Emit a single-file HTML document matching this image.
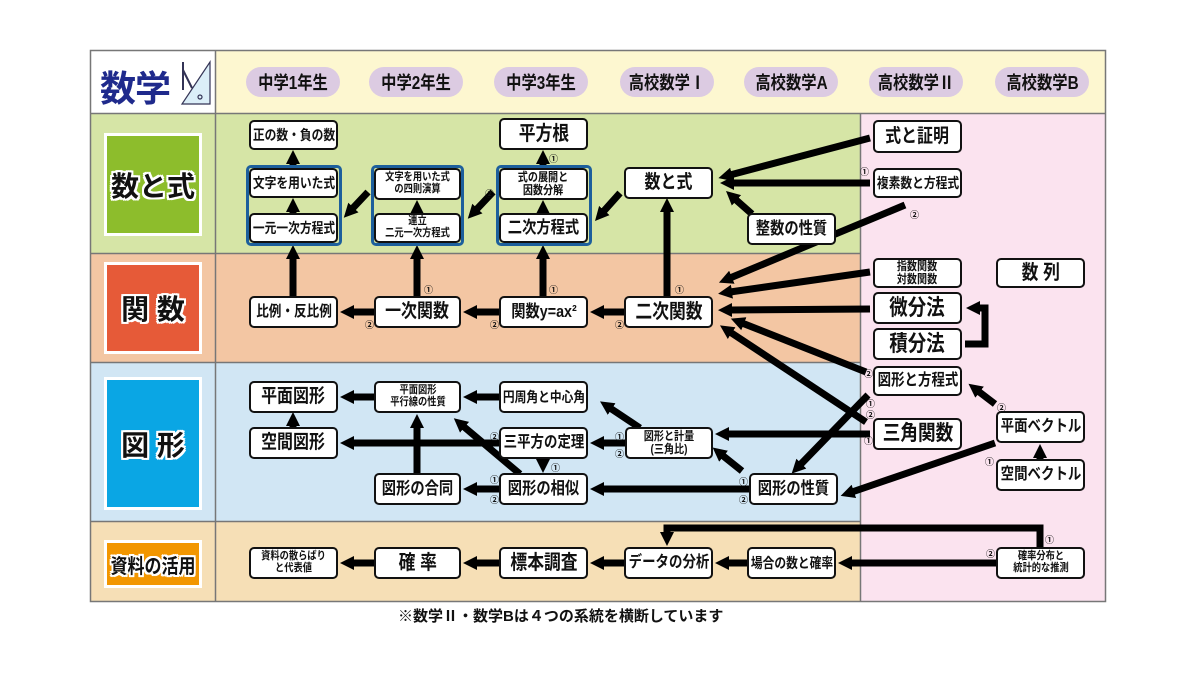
<!DOCTYPE html>
<html><head><meta charset="utf-8">
<style>
body{margin:0;width:1200px;height:675px;background:#fff;position:relative;overflow:hidden;font-family:"Liberation Sans","Noto Sans CJK JP",sans-serif;}
.a{position:absolute;}
.bg{position:absolute;}
.n{position:absolute;box-sizing:border-box;background:#fff;border:2px solid #111;border-radius:5px;display:flex;align-items:center;justify-content:center;text-align:center;font-weight:bold;color:#111;line-height:1.05;white-space:nowrap;}
.n span{display:inline-block;transform:scaleX(.84);}
.g{position:absolute;box-sizing:border-box;border:3px solid #1d5f9c;border-radius:5px;}
.p{position:absolute;width:94px;height:30px;top:67px;border-radius:15px;background:#dccbe2;font-weight:bold;font-size:18px;display:flex;align-items:center;justify-content:center;color:#111;white-space:nowrap;}
.p span{display:inline-block;transform:scaleX(.85);}
.L{position:absolute;box-sizing:border-box;border:3px solid #fff;display:flex;align-items:center;justify-content:center;font-weight:bold;color:#111;font-size:28px;white-space:nowrap;text-shadow:-2px 0 #fff,2px 0 #fff,0 -2px #fff,0 2px #fff,2px 2px #fff,-2px -2px #fff,2px -2px #fff,-2px 2px #fff;}
.c{position:absolute;font-size:9px;font-weight:bold;color:#111;}
</style></head><body>
<div class="bg" style="left:90px;top:50px;width:1016px;height:63px;background:#fdf7d0"></div>
<div class="bg" style="left:90px;top:50px;width:125px;height:63px;background:#fff"></div>
<div class="bg" style="left:90px;top:113px;width:770px;height:140px;background:#d6e5a6"></div>
<div class="bg" style="left:90px;top:253px;width:770px;height:109px;background:#f3c6a3"></div>
<div class="bg" style="left:90px;top:362px;width:770px;height:159px;background:#d1e6f4"></div>
<div class="bg" style="left:90px;top:521px;width:770px;height:81px;background:#f6dfb6"></div>
<div class="bg" style="left:860px;top:113px;width:246px;height:489px;background:#fbe3ef"></div>
<svg class="a" style="left:0;top:0" width="1200" height="675">
<g stroke="#777" stroke-width="1.5" fill="none">
<rect x="90.5" y="50.5" width="1015" height="551"/>
<line x1="215.5" y1="50" x2="215.5" y2="602"/>
<line x1="90" y1="113.5" x2="1106" y2="113.5"/>
<line x1="90" y1="253.5" x2="860" y2="253.5"/>
<line x1="90" y1="362.5" x2="860" y2="362.5"/>
<line x1="90" y1="521.5" x2="860" y2="521.5"/>
<line x1="860.5" y1="113" x2="860.5" y2="602"/>
</g>
<g stroke="#335" stroke-width="1.2" fill="#dbeef8">
<polygon points="210,62 210,104 182,104"/>
<circle cx="200" cy="97" r="2" fill="none"/>
<line x1="183" y1="62" x2="183" y2="90" stroke-width="2"/>
<line x1="183" y1="70" x2="192" y2="88" stroke-width="2"/>
</g>
<defs><marker id="m" markerUnits="userSpaceOnUse" markerWidth="16" markerHeight="16" refX="2" refY="8" orient="auto"><path d="M0,1 L14,8 L0,15 Z" fill="#000"/></marker></defs>
<g stroke="#000" stroke-width="7" fill="none" marker-end="url(#m)">
<line x1="293" y1="168" x2="293" y2="162"/>
<line x1="293" y1="213" x2="293" y2="210"/>
<line x1="417" y1="213" x2="417" y2="212"/>
<line x1="543" y1="213" x2="543" y2="212"/>
<line x1="543" y1="166" x2="543" y2="162"/>
<line x1="293" y1="296" x2="293" y2="257"/>
<line x1="417" y1="296" x2="417" y2="257"/>
<line x1="543" y1="296" x2="543" y2="257"/>
<line x1="667" y1="296" x2="667" y2="210"/>
<line x1="368" y1="192" x2="352" y2="209"/>
<line x1="493" y1="192" x2="476" y2="210"/>
<line x1="620" y1="193" x2="603" y2="212"/>
<line x1="870" y1="138" x2="730" y2="175"/>
<line x1="870" y1="183" x2="732" y2="183"/>
<line x1="752" y1="214" x2="735" y2="199"/>
<line x1="905" y1="205" x2="730" y2="278"/>
<line x1="870" y1="272" x2="730" y2="292"/>
<line x1="870" y1="309" x2="730" y2="310"/>
<line x1="866" y1="372" x2="742" y2="323"/>
<line x1="866" y1="422" x2="730" y2="332"/>
<line x1="624" y1="312" x2="602" y2="312"/>
<line x1="499" y1="312" x2="475" y2="312"/>
<line x1="374" y1="312" x2="352" y2="312"/>
<line x1="499" y1="397" x2="475" y2="397"/>
<line x1="374" y1="397" x2="352" y2="397"/>
<line x1="293" y1="427" x2="293" y2="424"/>
<line x1="499" y1="443" x2="352" y2="443"/>
<line x1="417" y1="473" x2="417" y2="426"/>
<line x1="520" y1="474" x2="463" y2="426"/>
<line x1="543" y1="459" x2="543" y2="461"/>
<line x1="499" y1="489" x2="475" y2="489"/>
<line x1="625" y1="443" x2="602" y2="443"/>
<line x1="640" y1="428" x2="610" y2="408"/>
<line x1="742" y1="471" x2="722" y2="455"/>
<line x1="749" y1="489" x2="602" y2="489"/>
<line x1="870" y1="434" x2="727" y2="434"/>
<line x1="868" y1="395" x2="800" y2="465"/>
<line x1="995" y1="404" x2="978" y2="391"/>
<line x1="1040" y1="459" x2="1040" y2="456"/>
<line x1="995" y1="443" x2="852" y2="492"/>
<line x1="996" y1="563" x2="850" y2="563"/>
<line x1="747" y1="563" x2="727" y2="563"/>
<line x1="624" y1="563" x2="602" y2="563"/>
<line x1="499" y1="563" x2="475" y2="563"/>
<line x1="374" y1="563" x2="352" y2="563"/>
<polyline points="1040,547 1040,528 667,528 667,534"/>
<polyline points="965,344 985,344 985,308 978,308"/>
</g>
</svg>
<div class="a" style="left:100px;top:60px;font-size:36px;font-weight:bold;color:#1f2a8c;letter-spacing:-1px">数学</div>
<div class="p" style="left:246px"><span>中学1年生</span></div>
<div class="p" style="left:369px"><span>中学2年生</span></div>
<div class="p" style="left:494px"><span>中学3年生</span></div>
<div class="p" style="left:620px"><span>高校数学Ⅰ</span></div>
<div class="p" style="left:744px"><span>高校数学A</span></div>
<div class="p" style="left:869px"><span>高校数学Ⅱ</span></div>
<div class="p" style="left:995px"><span>高校数学B</span></div>
<div class="L" style="left:104px;top:133px;width:98px;height:103px;background:#8dbd2c">数と式</div>
<div class="L" style="left:104px;top:262px;width:98px;height:92px;background:#e65a38">関&nbsp;数</div>
<div class="L" style="left:104px;top:377px;width:98px;height:133px;background:#0aa6e4">図&nbsp;形</div>
<div class="L" style="left:104px;top:540px;width:98px;height:48px;background:#f29600;font-size:20px"><span style="display:inline-block;transform:scaleX(.85)">資料の活用</span></div>
<div class="g" style="left:246px;top:165px;width:96px;height:81px"></div>
<div class="g" style="left:371px;top:165px;width:93px;height:81px"></div>
<div class="g" style="left:496px;top:165px;width:96px;height:81px"></div>
<div class="n" style="left:249px;top:120px;width:89px;height:30px;font-size:14px"><span>正の数・負の数</span></div>
<div class="n" style="left:249px;top:168px;width:89px;height:30px;font-size:14px"><span>文字を用いた式</span></div>
<div class="n" style="left:249px;top:213px;width:89px;height:30px;font-size:14px"><span>一元一次方程式</span></div>
<div class="n" style="left:374px;top:168px;width:87px;height:32px;font-size:11px"><span>文字を用いた式<br>の四則演算</span></div>
<div class="n" style="left:374px;top:213px;width:87px;height:30px;font-size:11px"><span>連立<br>二元一次方程式</span></div>
<div class="n" style="left:499px;top:118px;width:89px;height:32px;font-size:20px"><span>平方根</span></div>
<div class="n" style="left:499px;top:168px;width:89px;height:32px;font-size:12px"><span>式の展開と<br>因数分解</span></div>
<div class="n" style="left:499px;top:213px;width:89px;height:30px;font-size:17px"><span>二次方程式</span></div>
<div class="n" style="left:624px;top:167px;width:89px;height:32px;font-size:19px"><span>数と式</span></div>
<div class="n" style="left:747px;top:213px;width:89px;height:32px;font-size:17px"><span>整数の性質</span></div>
<div class="n" style="left:873px;top:120px;width:89px;height:33px;font-size:19px"><span>式と証明</span></div>
<div class="n" style="left:873px;top:168px;width:89px;height:30px;font-size:14px"><span>複素数と方程式</span></div>
<div class="n" style="left:873px;top:258px;width:89px;height:30px;font-size:12px"><span>指数関数<br>対数関数</span></div>
<div class="n" style="left:996px;top:258px;width:89px;height:30px;font-size:20px"><span>数 列</span></div>
<div class="n" style="left:873px;top:292px;width:89px;height:32px;font-size:22px"><span>微分法</span></div>
<div class="n" style="left:873px;top:328px;width:89px;height:32px;font-size:22px"><span>積分法</span></div>
<div class="n" style="left:249px;top:296px;width:89px;height:32px;font-size:15px"><span>比例・反比例</span></div>
<div class="n" style="left:374px;top:296px;width:87px;height:32px;font-size:19px"><span>一次関数</span></div>
<div class="n" style="left:499px;top:296px;width:89px;height:32px;font-size:17px"><span>関数y=ax²</span></div>
<div class="n" style="left:624px;top:296px;width:89px;height:32px;font-size:20px"><span>二次関数</span></div>
<div class="n" style="left:249px;top:381px;width:89px;height:32px;font-size:19px"><span>平面図形</span></div>
<div class="n" style="left:374px;top:381px;width:87px;height:32px;font-size:11px"><span>平面図形<br>平行線の性質</span></div>
<div class="n" style="left:499px;top:381px;width:89px;height:32px;font-size:14px"><span>円周角と中心角</span></div>
<div class="n" style="left:249px;top:427px;width:89px;height:32px;font-size:19px"><span>空間図形</span></div>
<div class="n" style="left:499px;top:427px;width:89px;height:32px;font-size:16px"><span>三平方の定理</span></div>
<div class="n" style="left:625px;top:427px;width:88px;height:32px;font-size:12px"><span>図形と計量<br>(三角比)</span></div>
<div class="n" style="left:873px;top:366px;width:89px;height:30px;font-size:16px"><span>図形と方程式</span></div>
<div class="n" style="left:873px;top:418px;width:89px;height:32px;font-size:21px"><span>三角関数</span></div>
<div class="n" style="left:996px;top:411px;width:89px;height:32px;font-size:16px"><span>平面ベクトル</span></div>
<div class="n" style="left:996px;top:459px;width:89px;height:32px;font-size:16px"><span>空間ベクトル</span></div>
<div class="n" style="left:374px;top:473px;width:87px;height:32px;font-size:17px"><span>図形の合同</span></div>
<div class="n" style="left:499px;top:473px;width:89px;height:32px;font-size:17px"><span>図形の相似</span></div>
<div class="n" style="left:749px;top:473px;width:89px;height:32px;font-size:17px"><span>図形の性質</span></div>
<div class="n" style="left:249px;top:547px;width:89px;height:32px;font-size:11px"><span>資料の散らばり<br>と代表値</span></div>
<div class="n" style="left:374px;top:547px;width:87px;height:32px;font-size:20px"><span>確 率</span></div>
<div class="n" style="left:499px;top:547px;width:89px;height:32px;font-size:20px"><span>標本調査</span></div>
<div class="n" style="left:624px;top:547px;width:89px;height:32px;font-size:16px"><span>データの分析</span></div>
<div class="n" style="left:747px;top:547px;width:89px;height:32px;font-size:14px"><span>場合の数と確率</span></div>
<div class="n" style="left:996px;top:547px;width:89px;height:32px;font-size:11px"><span>確率分布と<br>統計的な推測</span></div>
<div class="c" style="left:549px;top:152px">①</div>
<div class="c" style="left:485px;top:187px">②</div>
<div class="c" style="left:860px;top:165px">①</div>
<div class="c" style="left:910px;top:208px">②</div>
<div class="c" style="left:675px;top:283px">①</div>
<div class="c" style="left:424px;top:283px">①</div>
<div class="c" style="left:549px;top:283px">①</div>
<div class="c" style="left:365px;top:318px">②</div>
<div class="c" style="left:490px;top:318px">②</div>
<div class="c" style="left:615px;top:318px">②</div>
<div class="c" style="left:864px;top:367px">②</div>
<div class="c" style="left:866px;top:397px">①</div>
<div class="c" style="left:866px;top:408px">②</div>
<div class="c" style="left:864px;top:434px">①</div>
<div class="c" style="left:997px;top:401px">②</div>
<div class="c" style="left:985px;top:455px">①</div>
<div class="c" style="left:490px;top:430px">②</div>
<div class="c" style="left:615px;top:430px">①</div>
<div class="c" style="left:615px;top:447px">②</div>
<div class="c" style="left:551px;top:461px">①</div>
<div class="c" style="left:490px;top:473px">①</div>
<div class="c" style="left:490px;top:493px">②</div>
<div class="c" style="left:739px;top:475px">①</div>
<div class="c" style="left:739px;top:493px">②</div>
<div class="c" style="left:1045px;top:533px">①</div>
<div class="c" style="left:986px;top:547px">②</div>
<div class="a" style="left:398px;top:605px;font-size:15px;font-weight:bold;color:#111;white-space:nowrap">※数学Ⅱ・数学Bは４つの系統を横断しています</div>
</body></html>
